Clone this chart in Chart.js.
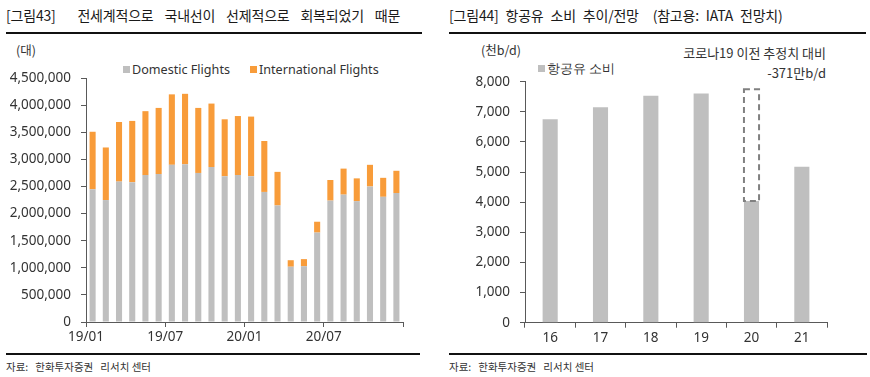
<!DOCTYPE html>
<html>
<head>
<meta charset="utf-8">
<script src="https://cdn.jsdelivr.net/npm/chart.js@4"></script>
<style>
  body { margin: 0; background: #fff; width: 870px; height: 377px; position: relative; overflow: hidden;
         font-family: "Noto Sans CJK KR", "Noto Sans", sans-serif; color: #222; }
  .t { position: absolute; white-space: pre; line-height: 20px; }
  .title { font-size: 14px; color: #1a1a1a; letter-spacing: -0.2px; word-spacing: 8px; }
  .unit { font-size: 12.5px; color: #333; }
  .src { font-size: 10.5px; color: #333; }
  .rule { position: absolute; height: 2px; background: #111; }
  .leg { position: absolute; font-family: "Noto Sans", sans-serif; font-size: 12.6px; color: #333; line-height: 16px; white-space: pre; }
  .sw { display: inline-block; width: 7px; height: 7px; margin-right: 2px; vertical-align: 1px; }
  canvas { position: absolute; }
</style>
</head>
<body>
<div class="t title" style="left:6px; top:5px;">[그림43]  전세계적으로 국내선이 선제적으로 회복되었기 때문</div>
<div class="rule" style="left:6px; top:32px; width:416px;"></div>
<div class="t unit" style="left:16px; top:40px;">(대)</div>
<div class="leg" style="left:123px; top:62px;"><span class="sw" style="background:#bfbfbf"></span>Domestic Flights</div>
<div class="leg" style="left:250px; top:62px;"><span class="sw" style="background:#f89c3a"></span>International Flights</div>
<div class="rule" style="left:6px; top:353px; width:414px;"></div>
<div class="t src" style="left:6px; top:357px;">자료:   한화투자증권   리서치 센터</div>

<div class="t title" style="left:449px; top:5px; word-spacing: 4px;">[그림44] 항공유 소비 추이/전망  (참고용: IATA 전망치)</div>
<div class="rule" style="left:449px; top:32px; width:417px;"></div>
<div class="t unit" style="left:481px; top:40px;">(천b/d)</div>
<div class="leg" style="left:538px; top:61px;"><span class="sw" style="background:#bfbfbf"></span>항공유 소비</div>
<div class="t unit" style="right:44px; top:43px; font-size:13px;">코로나19 이전 추정치 대비</div>
<div class="t unit" style="right:44px; top:63px; font-size:13px;">-371만b/d</div>
<div class="rule" style="left:449px; top:353px; width:418px;"></div>
<div class="t src" style="left:449px; top:357px;">자료:   한화투자증권   리서치 센터</div>

<canvas id="flightsChart" width="420" height="290" style="left:0; top:60px;"></canvas>
<canvas id="fuelChart" width="435" height="290" style="left:435px; top:60px;"></canvas>

<script>
// Figure 43: monthly flights (19/01 - 20/12)
const months = ['19/01', '19/02', '19/03', '19/04', '19/05', '19/06', '19/07', '19/08', '19/09', '19/10', '19/11', '19/12',
    '20/01', '20/02', '20/03', '20/04', '20/05', '20/06', '20/07', '20/08', '20/09', '20/10', '20/11', '20/12'];
const domesticFlights = [2450000, 2250000, 2590000, 2580000, 2710000, 2730000, 2900000, 2910000, 2750000, 2860000, 2690000, 2710000,
    2690000, 2400000, 2150000, 1020000, 1030000, 1650000, 2240000, 2350000, 2230000, 2500000, 2310000, 2380000];
const internationalFlights = [1060000, 970000, 1100000, 1130000, 1180000, 1220000, 1300000, 1300000, 1200000, 1170000, 1050000, 1090000,
    1100000, 940000, 620000, 120000, 130000, 200000, 380000, 480000, 420000, 400000, 350000, 410000];

// Figure 44: jet fuel consumption (thousand b/d)
const years = ['16', '17', '18', '19', '20', '21'];
const fuelUse = [6750, 7150, 7530, 7610, 4040, 5180];
const preCovidGap = [null, null, null, null, 3710, null];

const GRAY = '#bfbfbf';
const ORANGE = '#f89c3a';
const AXIS = '#595959';
const tickFont = { family: 'Noto Sans', size: 13.5 };

Chart.defaults.color = '#333';
Chart.defaults.animation = false;

function yAxis(max, step, width) {
    return {
        stacked: true,
        min: 0,
        max: max,
        afterFit: scale => { scale.width = width; },
        border: { display: true, color: AXIS, width: 1 },
        grid: { drawOnChartArea: false, drawTicks: true, tickLength: 5, tickColor: AXIS },
        ticks: {
            stepSize: step,
            padding: 10,
            font: tickFont,
            callback: v => v.toLocaleString('en-US'),
        },
    };
}

new Chart(document.getElementById('flightsChart'), {
    type: 'bar',
    data: {
        labels: months,
        datasets: [
            { label: 'Domestic Flights', data: domesticFlights, backgroundColor: GRAY, xAxisID: 'x' },
            { label: 'International Flights', data: internationalFlights, backgroundColor: ORANGE, xAxisID: 'x' },
        ],
    },
    options: {
        responsive: false,
        layout: { padding: { top: 18, right: 17, left: 0, bottom: 0 } },
        barPercentage: 0.46,
        categoryPercentage: 1,
        plugins: { legend: { display: false }, tooltip: { enabled: false } },
        scales: {
            x: { type: 'category', stacked: true, display: false },
            // date-style axis: labels sit on the month boundaries
            xt: {
                type: 'linear',
                position: 'bottom',
                offset: false,
                min: 0,
                max: months.length,
                afterFit: scale => { scale.height = 28; },
                border: { display: true, color: AXIS, width: 1 },
                grid: { offset: false, drawOnChartArea: false, drawTicks: true, tickLength: 5, tickColor: AXIS },
                ticks: {
                    stepSize: 6,
                    padding: 2,
                    maxRotation: 0,
                    autoSkip: false,
                    font: tickFont,
                    callback: v => months[v] !== undefined ? months[v] : '',
                },
            },
            y: yAxis(4500000, 500000, 86),
        },
    },
});

// dashed outline for the pre-covid estimate
const dashedBox = {
    id: 'dashedBox',
    afterDatasetsDraw(chart) {
        const meta = chart.getDatasetMeta(1);
        const ctx = chart.ctx;
        ctx.save();
        ctx.strokeStyle = '#808080';
        ctx.lineWidth = 2;
        ctx.setLineDash([6, 4]);
        meta.data.forEach((bar, i) => {
            if (preCovidGap[i] == null) return;
            const { x, y, base, width } = bar.getProps(['x', 'y', 'base', 'width'], true);
            ctx.strokeRect(x - width / 2, y, width, base - y);
        });
        ctx.restore();
    },
};

new Chart(document.getElementById('fuelChart'), {
    type: 'bar',
    data: {
        labels: years,
        datasets: [
            { label: '항공유 소비', data: fuelUse, backgroundColor: GRAY },
            { label: '코로나19 이전 추정치', data: preCovidGap, backgroundColor: 'rgba(0,0,0,0)' },
        ],
    },
    options: {
        responsive: false,
        layout: { padding: { top: 21.7, right: 43, left: 0, bottom: 0 } },
        barPercentage: 0.3,
        categoryPercentage: 1,
        plugins: { legend: { display: false }, tooltip: { enabled: false } },
        scales: {
            x: {
                stacked: true,
                afterFit: scale => { scale.height = 27.3; },
                border: { display: true, color: AXIS, width: 1 },
                grid: { drawOnChartArea: false, drawTicks: true, tickLength: 5, tickColor: AXIS },
                ticks: { padding: 2, font: tickFont },
            },
            y: yAxis(8000, 1000, 90),
        },
    },
    plugins: [dashedBox],
});
</script>
</body>
</html>
